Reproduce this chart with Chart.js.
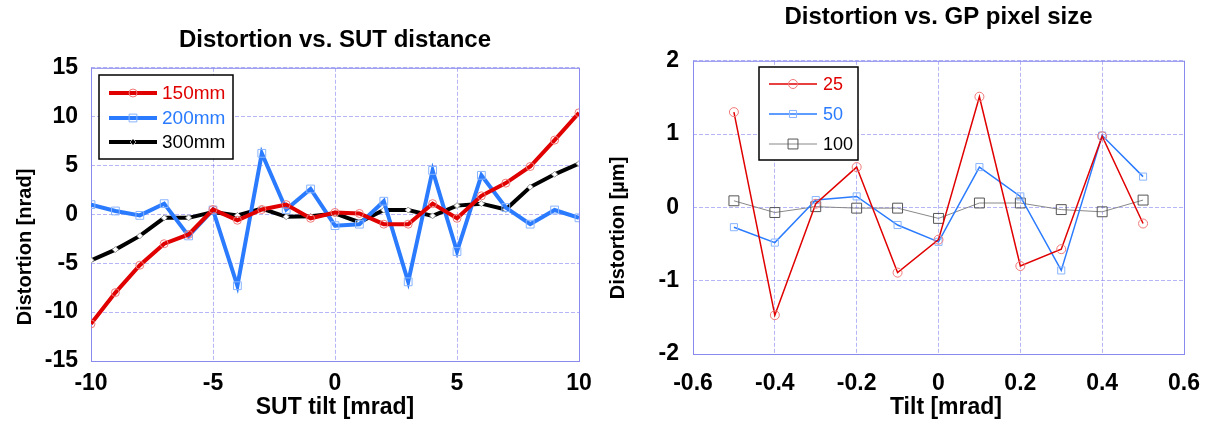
<!DOCTYPE html>
<html>
<head>
<meta charset="utf-8">
<script src="https://cdn.jsdelivr.net/npm/chart.js@4.4.0/dist/chart.umd.min.js"></script>
<style>
body { margin:0; background:#fff; width:1205px; height:421px; overflow:hidden; position:relative; }
canvas { position:absolute; top:0; }
#chart1 { left:0; }
#chart2 { left:600px; }
</style>
</head>
<body>
<canvas id="chart1" width="600" height="421"></canvas>
<canvas id="chart2" width="605" height="421"></canvas>
<script>
// DATA CHART 1 (SUT distance)
const sutTilt = [-10, -9, -8, -7, -6, -5, -4, -3, -2, -1, 0, 1, 2, 3, 4, 5, 6, 7, 8, 9, 10];
const dist150 = [-11.2, -8.0, -5.2, -3.0, -2.05, 0.5, -0.6, 0.5, 1.0, -0.4, 0.2, 0.1, -1.0, -1.0, 1.1, -0.4, 1.9, 3.2, 4.9, 7.6, 10.4];
const dist200 = [1.0, 0.35, -0.1, 1.1, -2.2, 0.45, -7.3, 6.25, 0.5, 2.6, -1.15, -1.0, 1.35, -6.9, 4.5, -3.8, 4.0, 0.7, -1.0, 0.45, -0.35];
const dist300 = [-4.7, -3.6, -2.2, -0.35, -0.35, 0.25, -0.1, 0.6, -0.25, -0.2, 0.1, -0.8, 0.45, 0.45, -0.15, 0.9, 1.1, 0.5, 2.8, 4.1, 5.2];

// DATA CHART 2 (GP pixel size)
const gpTilt = [-0.5, -0.4, -0.3, -0.2, -0.1, 0, 0.1, 0.2, 0.3, 0.4, 0.5];
const pix25 = [1.30, -1.47, 0.05, 0.55, -0.89, -0.44, 1.51, -0.80, -0.57, 0.97, -0.22];
const pix50 = [-0.27, -0.48, 0.10, 0.15, -0.24, -0.47, 0.55, 0.15, -0.86, 0.98, 0.42];
const pix100 = [0.09, -0.07, 0.01, -0.01, -0.01, -0.15, 0.06, 0.06, -0.03, -0.06, 0.10];

// TICKS (min, max, step)
const sutXTicks = [-10, 10, 5];
const sutYTicks = [-15, 15, 5];
const gpXTicks = [-0.6, 0.6, 0.2];
const gpYTicks = [-2, 2, 1];

Chart.defaults.font.family = '"Liberation Sans", Arial, sans-serif';
Chart.defaults.color = '#000';

const gridColor = 'rgba(110,110,240,0.5)';
const frameColor = '#8a8aee';
const fam = '"Liberation Sans", Arial, sans-serif';

function pts(xs, ys) {
    return xs.map((x, i) => ({x: x, y: ys[i]}));
}

function mark(ctx, style, x, y, r) {
    ctx.beginPath();
    if (style === 'circle') {
        ctx.arc(x, y, r, 0, Math.PI * 2);
    } else if (style === 'rect') {
        let s = r * Math.SQRT1_2;
        ctx.rect(x - s, y - s, 2 * s, 2 * s);
    } else {
        ctx.moveTo(x - r, y); ctx.lineTo(x, y - r); ctx.lineTo(x + r, y); ctx.lineTo(x, y + r);
        ctx.closePath();
    }
    ctx.stroke();
}

// frame around plot area
const framePlugin = {
    id: 'frame',
    beforeDatasetsDraw(chart) {
        const a = chart.chartArea, ctx = chart.ctx;
        ctx.save();
        ctx.strokeStyle = frameColor;
        ctx.lineWidth = 1;
        ctx.strokeRect(a.left + 0.5, a.top + 0.5, a.right - a.left, a.bottom - a.top);
        ctx.restore();
    }
};

// boxed legend with line + marker
const boxLegend = {
    id: 'boxLegend',
    afterDatasetsDraw(chart, args, o) {
        const ctx = chart.ctx;
        ctx.save();
        ctx.fillStyle = '#fff';
        ctx.fillRect(o.x, o.y, o.w, o.h);
        ctx.strokeStyle = '#000';
        ctx.lineWidth = 1.5;
        ctx.strokeRect(o.x, o.y, o.w, o.h);
        chart.data.datasets.forEach((ds, i) => {
            let y = o.rows[i];
            ctx.strokeStyle = ds.borderColor;
            ctx.lineWidth = ds.borderWidth;
            ctx.beginPath();
            ctx.moveTo(o.lineX0, y);
            ctx.lineTo(o.lineX1, y);
            ctx.stroke();
            ctx.strokeStyle = ds.pointBorderColor;
            ctx.lineWidth = 1;
            mark(ctx, ds.pointStyle, (o.lineX0 + o.lineX1) / 2, y, ds.pointRadius);
            ctx.fillStyle = ds.textColor;
            ctx.font = o.font;
            ctx.textBaseline = 'middle';
            ctx.fillText(ds.label, o.textX, y + 1);
        });
        ctx.restore();
    }
};

// axis titles placed like the original
const axisText = {
    id: 'axisText',
    afterDraw(chart, args, o) {
        const ctx = chart.ctx;
        ctx.save();
        ctx.fillStyle = '#000';
        ctx.textAlign = 'center';
        ctx.textBaseline = 'middle';
        o.items.forEach(t => {
            ctx.save();
            ctx.font = t.font;
            ctx.translate(t.x, t.y);
            ctx.rotate(t.rot || 0);
            ctx.fillText(t.text, 0, 0);
            ctx.restore();
        });
        ctx.restore();
    }
};

function scaleOpts(tk, pad, fit, cb) {
    let s = {
        type: 'linear',
        min: tk[0],
        max: tk[1],
        ticks: {stepSize: tk[2], font: {size: 23, weight: 'bold'}, padding: pad, color: '#000'},
        grid: {color: gridColor, drawTicks: false, lineWidth: 1},
        border: {display: false, dash: [4, 2]},
        afterFit: fit
    };
    if (cb) s.ticks.callback = cb;
    return s;
}

// CHART 1
new Chart(document.getElementById('chart1'), {
    type: 'line',
    data: {
        datasets: [
            {label: '150mm', data: pts(sutTilt, dist150), borderColor: '#e00000', borderWidth: 4, pointStyle: 'circle', pointRadius: 4, pointBorderColor: '#f07878', pointBackgroundColor: 'rgba(0,0,0,0)', pointBorderWidth: 1, textColor: '#e00000'},
            {label: '200mm', data: pts(sutTilt, dist200), borderColor: '#2a7bff', borderWidth: 4, pointStyle: 'rect', pointRadius: 5.5, pointBorderColor: '#88b4ff', pointBackgroundColor: 'rgba(0,0,0,0)', pointBorderWidth: 1, textColor: '#2a7bff'},
            {label: '300mm', data: pts(sutTilt, dist300), borderColor: '#000', borderWidth: 4, pointStyle: 'rectRot', pointRadius: 3, pointBorderColor: '#999', pointBackgroundColor: '#fff', pointBorderWidth: 1, textColor: '#000'}
        ]
    },
    options: {
        responsive: false,
        animation: false,
        devicePixelRatio: 1,
        layout: {padding: {left: 0, right: 21, top: 0, bottom: 0}},
        scales: {
            x: scaleOpts(sutXTicks, 9, s => { s.height = 60; s.paddingLeft = 0; s.paddingRight = 0; }),
            y: scaleOpts(sutYTicks, 13, s => { s.width = 91; s.paddingTop = 0; s.paddingBottom = 0; })
        },
        plugins: {
            legend: {display: false},
            tooltip: {enabled: false},
            title: {display: true, text: 'Distortion vs. SUT distance', fullSize: false, font: {size: 24, weight: 'bold'}, padding: {top: 26, bottom: 13}, color: '#000'},
            boxLegend: {x: 99, y: 75, w: 134, h: 84, rows: [93, 118, 142], lineX0: 109, lineX1: 157, textX: 162, font: '19px ' + fam},
            axisText: {items: [
                {text: 'Distortion [nrad]', x: 25, y: 247, rot: -Math.PI / 2, font: 'bold 20px ' + fam},
                {text: 'SUT tilt [mrad]', x: 335, y: 408, font: 'bold 23px ' + fam}
            ]}
        }
    },
    plugins: [framePlugin, boxLegend, axisText]
});

// CHART 2
new Chart(document.getElementById('chart2'), {
    type: 'line',
    data: {
        datasets: [
            {label: '25', data: pts(gpTilt, pix25), borderColor: '#e00000', borderWidth: 1.5, pointStyle: 'circle', pointRadius: 4.5, pointBorderColor: '#f07878', pointBackgroundColor: 'rgba(0,0,0,0)', pointBorderWidth: 1, textColor: '#e00000'},
            {label: '50', data: pts(gpTilt, pix50), borderColor: '#2a7bff', borderWidth: 1.5, pointStyle: 'rect', pointRadius: 5, pointBorderColor: '#88b4ff', pointBackgroundColor: 'rgba(0,0,0,0)', pointBorderWidth: 1, textColor: '#2a7bff'},
            {label: '100', data: pts(gpTilt, pix100), borderColor: '#888', borderWidth: 1, pointStyle: 'rect', pointRadius: 7, pointBorderColor: '#555', pointBackgroundColor: 'rgba(0,0,0,0)', pointBorderWidth: 1, textColor: '#000'}
        ]
    },
    options: {
        responsive: false,
        animation: false,
        devicePixelRatio: 1,
        layout: {padding: {left: 0, right: 21, top: 0, bottom: 0}},
        scales: {
            x: scaleOpts(gpXTicks, 16, s => { s.height = 67; s.paddingLeft = 0; s.paddingRight = 0; }, v => (Math.abs(v) < 1e-9 ? '0' : (Math.round(v * 10) / 10).toFixed(1))),
            y: scaleOpts(gpYTicks, 14, s => { s.width = 93; s.paddingTop = 0; s.paddingBottom = 0; })
        },
        plugins: {
            legend: {display: false},
            tooltip: {enabled: false},
            title: {display: true, text: 'Distortion vs. GP pixel size', fullSize: false, font: {size: 24, weight: 'bold'}, padding: {top: 3, bottom: 29}, color: '#000'},
            boxLegend: {x: 159, y: 67, w: 99, h: 93, rows: [84, 114, 144], lineX0: 169, lineX1: 217, textX: 223, font: '18px ' + fam},
            axisText: {items: [
                {text: 'Distortion [\u00b5m]', x: 18, y: 228, rot: -Math.PI / 2, font: 'bold 20px ' + fam},
                {text: 'Tilt [mrad]', x: 346, y: 408, font: 'bold 23px ' + fam}
            ]}
        }
    },
    plugins: [framePlugin, boxLegend, axisText]
});
</script>
</body>
</html>
